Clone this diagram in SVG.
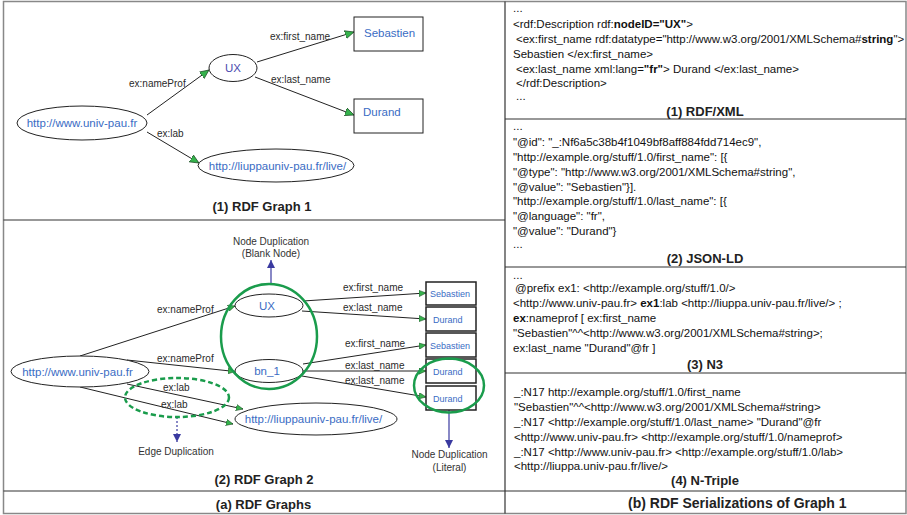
<svg xmlns="http://www.w3.org/2000/svg" width="907" height="515" viewBox="0 0 907 515">
<defs>
<style>
text{font-family:"Liberation Sans",Arial,sans-serif}
.lbl{font-size:10px;fill:#2a2a2a}
.nt{font-size:11.5px;fill:#3a6cc4}
.ns{font-size:9px;fill:#3a6cc4}
.ttl{font-size:13px;font-weight:bold;fill:#222;text-anchor:middle}
.cap{font-size:10px;fill:#333;text-anchor:middle}
.code{font-size:11.5px;fill:#111}
.b{font-weight:bold}
.mid{text-anchor:middle}
.edge{fill:none;stroke:#222;stroke-width:1}
.node{fill:#fff;stroke:#222;stroke-width:1}
.box{fill:#fff;stroke:#222;stroke-width:1.5}
.grn{fill:none;stroke:#1a9c4c;stroke-width:2.5}
.frame{stroke:#888;stroke-width:1.5;fill:none}
.div{stroke:#333;stroke-width:1.2}
.blue{stroke:#3a3aa0;stroke-width:1.2;fill:none}
</style>
<marker id="ga" viewBox="0 0 10 10" refX="10" refY="5" markerWidth="9" markerHeight="9" orient="auto" markerUnits="userSpaceOnUse"><path d="M0,0.5 L10,5 L0,9.5 z" fill="#35b24c" stroke="#1e4d26" stroke-width="0.8"/></marker>
<marker id="ga2" viewBox="0 0 10 10" refX="10" refY="5" markerWidth="7" markerHeight="7" orient="auto" markerUnits="userSpaceOnUse"><path d="M0,0.5 L10,5 L0,9.5 z" fill="#35b24c" stroke="#1e4d26" stroke-width="0.8"/></marker>
<marker id="ba" viewBox="0 0 10 10" refX="10" refY="5" markerWidth="8" markerHeight="8" orient="auto" markerUnits="userSpaceOnUse"><path d="M0,0 L10,5 L0,10 z" fill="#3a3aa0"/></marker>
</defs>

<g id="frame">
<rect class="frame" x="3.5" y="1.5" width="902.5" height="512"/>
<line class="div" x1="505" y1="1.5" x2="505" y2="513.5"/>
<line class="div" x1="3.5" y1="220" x2="505" y2="220"/>
<line class="div" x1="3.5" y1="491" x2="906" y2="491"/>
<line class="div" x1="505" y1="119" x2="906" y2="119"/>
<line class="div" x1="505" y1="267" x2="906" y2="267"/>
<line class="div" x1="505" y1="373" x2="906" y2="373"/>
</g>

<!-- Graph 1 -->
<g id="g1-connectors">
<path class="edge" d="M147,115 L209,70" marker-end="url(#ga)"/>
<path class="edge" d="M257,62 L354,32" marker-end="url(#ga)"/>
<path class="edge" d="M255,77 L354,115" marker-end="url(#ga)"/>
<path class="edge" d="M147,132 L199,163" marker-end="url(#ga)"/>
<text class="lbl" x="129" y="86.5">ex:nameProf</text>
<text class="lbl" x="270" y="39.5">ex:first_name</text>
<text class="lbl" x="271" y="82.5">ex:last_name</text>
<text class="lbl" x="157" y="136.5">ex:lab</text>
</g>
<g id="g1-ux"><ellipse class="node" cx="233" cy="68" rx="24" ry="13.5"/><text class="mid" x="233" y="72" font-size="11.5" fill="#4b4bb0">UX</text></g>
<g id="g1-univ"><ellipse class="node" cx="82" cy="123" rx="65" ry="17"/><text class="nt mid" x="82" y="127">http://www.univ-pau.fr</text></g>
<g id="g1-live"><ellipse class="node" cx="276" cy="165.5" rx="78" ry="16.5"/><text class="nt mid" x="277.5" y="169.5" font-size="11.2">http://liuppauniv-pau.fr/live/</text></g>
<g id="g1-seb"><rect class="node" x="354" y="17" width="69" height="34"/><text class="nt" x="364" y="37">Sebastien</text></g>
<g id="g1-durand"><rect class="node" x="354" y="99" width="69" height="34"/><text class="nt" x="363" y="116">Durand</text></g>
<text class="ttl" x="262" y="211">(1) RDF Graph 1</text>

<!-- Graph 2 -->
<g id="g2-connectors">
<path class="edge" d="M80,356 L235,306" marker-end="url(#ga2)"/>
<path class="edge" d="M127,360 L235,371.5" marker-end="url(#ga2)"/>
<path class="edge" d="M303,301 L426,293" marker-end="url(#ga2)"/>
<path class="edge" d="M302,311 L426,319" marker-end="url(#ga2)"/>
<path class="edge" d="M303,364 L426,345" marker-end="url(#ga2)"/>
<path class="edge" d="M303,371 L426,371" marker-end="url(#ga2)"/>
<path class="edge" d="M302,376 L426,397" marker-end="url(#ga2)"/>
<path class="edge" d="M127,384 L243,409" marker-end="url(#ga2)"/>
<path class="edge" d="M80,387 L233,424" marker-end="url(#ga2)"/>
<text class="lbl" x="157" y="312.5">ex:nameProf</text>
<text class="lbl" x="157" y="361.5">ex:nameProf</text>
<text class="lbl" x="343" y="290.5">ex:first_name</text>
<text class="lbl" x="343" y="310.5">ex:last_name</text>
<text class="lbl" x="345" y="346.5">ex:first_name</text>
<text class="lbl" x="345" y="368.5">ex:last_name</text>
<text class="lbl" x="345" y="383.5">ex:last_name</text>
<text class="lbl" x="163" y="390.5">ex:lab</text>
<text class="lbl" x="161" y="407.5">ex:lab</text>
<path class="blue" d="M271,285 L271,260" marker-end="url(#ba)"/>
<path class="blue" d="M177,417 L177,442" stroke-dasharray="2,2" marker-end="url(#ba)"/>
<path class="blue" d="M449,410 L449,448" marker-end="url(#ba)"/>
</g>
<g id="g2-ux"><ellipse class="node" cx="269" cy="305.5" rx="34" ry="11.5"/><text class="nt mid" x="267" y="310">UX</text></g>
<g id="g2-bn1"><ellipse class="node" cx="269" cy="371" rx="34" ry="11.5"/><text class="nt mid" x="267" y="375">bn_1</text></g>
<g id="g2-univ"><ellipse class="node" cx="80" cy="371.5" rx="69" ry="15.5"/><text class="nt mid" x="77.5" y="375.5">http://www.univ-pau.fr</text></g>
<g id="g2-live"><ellipse class="node" cx="316" cy="419" rx="81" ry="16"/><text class="nt mid" x="313.5" y="423">http://liuppauniv-pau.fr/live/</text></g>
<g id="g2-seb1"><rect class="box" x="426" y="282" width="50" height="23"/><text class="ns" x="430" y="297">Sebastien</text></g>
<g id="g2-dur1"><rect class="box" x="426" y="307" width="50" height="24"/><text class="ns" x="433" y="322.5">Durand</text></g>
<g id="g2-seb2"><rect class="box" x="426" y="333" width="50" height="24"/><text class="ns" x="430" y="348.5">Sebastien</text></g>
<g id="g2-dur2"><rect class="box" x="426" y="359" width="50" height="24"/><text class="ns" x="433" y="374.5">Durand</text></g>
<g id="g2-dur3"><rect class="box" x="426" y="386" width="50" height="24"/><text class="ns" x="433" y="401.5">Durand</text></g>
<g id="g2-blank-dup"><ellipse class="grn" cx="269" cy="336.5" rx="48" ry="52.5"/><text class="cap" x="271" y="244.5">Node Duplication</text><text class="cap" x="271" y="257">(Blank Node)</text></g>
<g id="g2-edge-dup"><ellipse class="grn" cx="177" cy="397.5" rx="52" ry="19.5" stroke-dasharray="5,3"/><text class="cap" x="176" y="454.5">Edge Duplication</text></g>
<g id="g2-lit-dup"><ellipse class="grn" cx="449" cy="385.5" rx="35" ry="27"/><text class="cap" x="449.5" y="457.5">Node Duplication</text><text class="cap" x="449.5" y="470.5">(Literal)</text></g>
<text class="ttl" x="264" y="484">(2) RDF Graph 2</text>
<text class="ttl" x="263.5" y="509">(a) RDF Graphs</text>

<!-- Right panel -->
<g id="rdfxml">
<text class="code" x="513" y="12">...</text>
<text class="code" x="513" y="28">&lt;rdf:Description rdf:<tspan class="b">nodeID="UX"</tspan>&gt;</text>
<text class="code" x="516" y="43">&lt;ex:first_name rdf:datatype="http://www.w3.org/2001/XMLSchema#<tspan class="b">string</tspan>"&gt;</text>
<text class="code" x="513" y="58">Sebastien &lt;/ex:first_name&gt;</text>
<text class="code" x="516" y="73">&lt;ex:last_name xml:lang=<tspan class="b">"fr"</tspan>&gt;  Durand &lt;/ex:last_name&gt;</text>
<text class="code" x="516" y="87">&lt;/rdf:Description&gt;</text>
<text class="code" x="516" y="100">...</text>
<text class="ttl" x="705" y="116">(1) RDF/XML</text>
</g>
<g id="jsonld">
<text class="code" x="513" y="130">...</text>
<text class="code" x="513" y="146">"@id": "_:Nf6a5c38b4f1049bf8aff884fdd714ec9",</text>
<text class="code" x="513" y="161">"http://example.org/stuff/1.0/first_name": [{</text>
<text class="code" x="513" y="176">"@type": "http://www.w3.org/2001/XMLSchema#string",</text>
<text class="code" x="513" y="191">"@value": "Sebastien"}].</text>
<text class="code" x="513" y="205">"http://example.org/stuff/1.0/last_name": [{</text>
<text class="code" x="513" y="220">"@language": "fr",</text>
<text class="code" x="513" y="235">"@value": "Durand"}</text>
<text class="code" x="513" y="248">...</text>
<text class="ttl" x="705" y="263">(2) JSON-LD</text>
</g>
<g id="n3">
<text class="code" x="513" y="279">...</text>
<text class="code" x="515" y="292">@prefix ex1: &lt;http://example.org/stuff/1.0/&gt;</text>
<text class="code" x="513" y="307">&lt;http://www.univ-pau.fr&gt; <tspan class="b">ex1</tspan>:lab &lt;http://liuppa.univ-pau.fr/live/&gt; ;</text>
<text class="code" x="513" y="322"><tspan class="b">ex</tspan>:nameprof [ ex:first_name</text>
<text class="code" x="513" y="337">"Sebastien"^^&lt;http://www.w3.org/2001/XMLSchema#string&gt;;</text>
<text class="code" x="513" y="352">ex:last_name "Durand"@fr ]</text>
<text class="ttl" x="705" y="369">(3) N3</text>
</g>
<g id="ntriple">
<text class="code" x="514" y="396">_:N17 http://example.org/stuff/1.0/first_name</text>
<text class="code" x="514" y="411">"Sebastien"^^&lt;http://www.w3.org/2001/XMLSchema#string&gt;</text>
<text class="code" x="514" y="426">_:N17 &lt;http://example.org/stuff/1.0/last_name&gt; "Durand"@fr</text>
<text class="code" x="514" y="441">&lt;http://www.univ-pau.fr&gt; &lt;http://example.org/stuff/1.0/nameprof&gt;</text>
<text class="code" x="514" y="456">_:N17 &lt;http://www.univ-pau.fr&gt; &lt;http://example.org/stuff/1.0/lab&gt;</text>
<text class="code" x="514" y="470">&lt;http://liuppa.univ-pau.fr/live/&gt;</text>
<text class="ttl" x="705" y="485">(4) N-Triple</text>
</g>
<text x="628" y="508" font-size="14" font-weight="bold" fill="#222">(b) RDF Serializations of Graph 1</text>
</svg>
